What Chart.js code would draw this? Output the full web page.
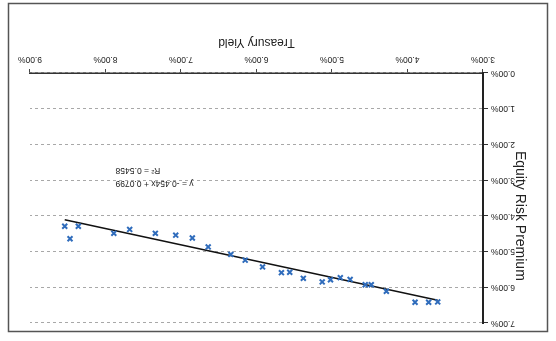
<!DOCTYPE html>
<html>
<head>
<meta charset="utf-8">
<script src="https://cdn.jsdelivr.net/npm/chart.js@4"></script>
<style>
    body { margin: 0; background: #fff; }
    /* the reference picture is upside down, so the whole chart is turned */
    #wrap { width: 556px; height: 341px; transform: rotate(180deg); }
</style>
</head>
<body>
<div id="wrap"><canvas id="chart" width="556" height="341"></canvas></div>
<script>
// Treasury yield (%) and equity risk premium (%)
const treasuryYield = [8.54, 8.36, 8.47, 7.89, 7.68, 7.34, 7.07, 6.85, 6.64, 6.34, 6.15, 5.92, 5.67,
    5.56, 5.38, 5.13, 5.02, 4.89, 4.76, 4.56, 4.48, 4.28, 3.90, 3.72, 3.60];
const riskPremium = [4.29, 4.29, 4.64, 4.49, 4.38, 4.49, 4.54, 4.62, 4.87, 5.08, 5.24, 5.43, 5.59,
    5.58, 5.75, 5.85, 5.79, 5.73, 5.78, 5.93, 5.93, 6.11, 6.42, 6.42, 6.41];

// linear trendline end points
const trendX = [3.60, 8.54];
const trendY = [6.36, 4.11];
const trendText = ['y = -0.454x + 0.0799', 'R\u00b2 = 0.5458'];

const xTickLabels = ['3.00%', '4.00%', '5.00%', '6.00%', '7.00%', '8.00%', '9.00%'];
const yTickLabels = ['0.00%', '1.00%', '2.00%', '3.00%', '4.00%', '5.00%', '6.00%', '7.00%'];

const tickFont = { family: 'Liberation Sans', size: 8.5 };

// frame round the chart, y axis title and the trendline label
const extras = {
    id: 'extras',
    afterDraw(chart) {
        const ctx = chart.ctx;
        const x = chart.scales.x, y = chart.scales.y;
        ctx.save();
        ctx.strokeStyle = '#555';
        ctx.lineWidth = 1.5;
        ctx.strokeRect(8.5, 9.5, 539, 328);
        ctx.fillStyle = '#222';
        ctx.textAlign = 'center';
        ctx.textBaseline = 'middle';
        ctx.font = '8.5px "Liberation Sans"';
        ctx.fillText(trendText[0], x.getPixelForValue(7.35), y.getPixelForValue(3.09));
        ctx.fillText(trendText[1], x.getPixelForValue(7.57), y.getPixelForValue(2.72));
        ctx.translate(36, y.getPixelForValue(4.0));
        ctx.rotate(-Math.PI / 2);
        ctx.font = '14px "Liberation Sans"';
        ctx.fillText('Equity Risk Premium', 0, 0);
        ctx.restore();
    }
};

new Chart(document.getElementById('chart'), {
    type: 'scatter',
    data: {
        datasets: [{
            data: treasuryYield.map((v, i) => ({ x: v, y: riskPremium[i] })),
            pointStyle: 'crossRot',
            pointRadius: 3.5,
            borderWidth: 2,
            borderColor: '#2f6cbc',
            backgroundColor: '#2f6cbc'
        }, {
            data: trendX.map((v, i) => ({ x: v, y: trendY[i] })),
            showLine: true,
            pointRadius: 0,
            borderColor: '#111',
            borderWidth: 1.5
        }]
    },
    options: {
        responsive: false,
        animation: false,
        layout: { padding: { left: 0, right: 30, top: 18, bottom: 0 } },
        plugins: { legend: { display: false }, tooltip: { enabled: false } },
        scales: {
            x: {
                type: 'linear',
                min: 3, max: 9,
                afterFit: s => { s.height = 73; },
                afterBuildTicks: s => { s.ticks = xTickLabels.map((t, i) => ({ value: 3 + i })); },
                ticks: {
                    font: tickFont, color: '#222', padding: 5, maxRotation: 0,
                    callback: (v, i) => xTickLabels[i]
                },
                grid: { drawOnChartArea: false, tickLength: 4, tickColor: '#444' },
                border: { color: '#333', width: 1.5 },
                title: {
                    display: true, text: 'Treasury Yield', color: '#222',
                    font: { family: 'Liberation Sans', size: 12 },
                    padding: { top: 0, bottom: 35 }
                }
            },
            y: {
                min: 0, max: 7,
                afterFit: s => { s.width = 73; },
                afterBuildTicks: s => { s.ticks = yTickLabels.map((t, i) => ({ value: i })); },
                ticks: {
                    font: tickFont, color: '#222', padding: 3,
                    callback: (v, i) => yTickLabels[i]
                },
                grid: {
                    color: '#a8a8a8', lineWidth: 1, tickLength: 5,
                    tickColor: '#333', tickBorderDash: [], tickWidth: 1
                },
                border: { color: '#222', width: 2, dash: [3, 3] }
            }
        }
    },
    plugins: [extras]
});
</script>
</body>
</html>
